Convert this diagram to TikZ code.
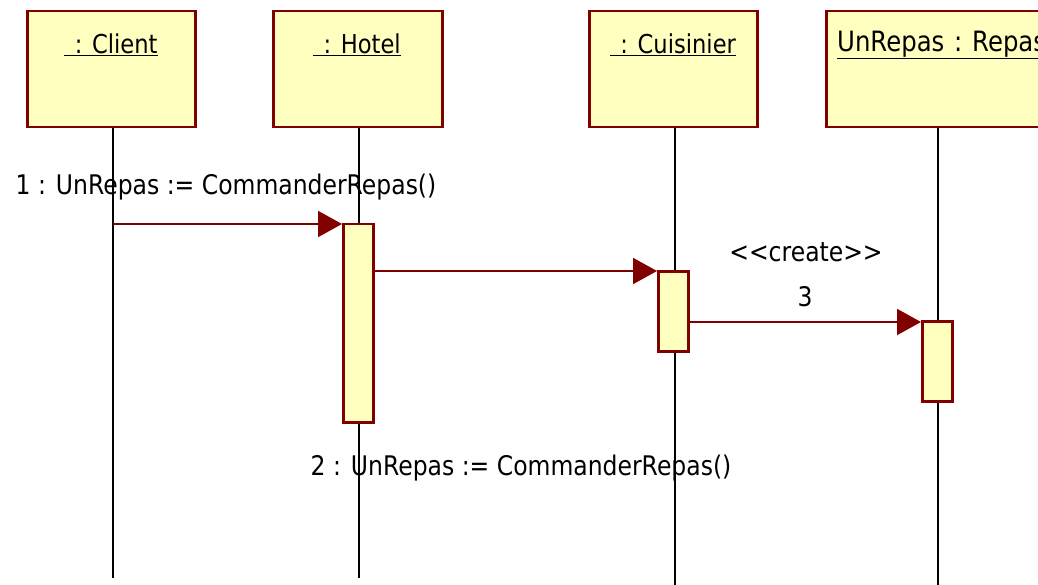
\documentclass[tikz,border=0pt]{standalone}
\usepackage{fontspec}
\setmainfont{DejaVu Sans}[FakeStretch=0.87]
\usetikzlibrary{arrows.meta,calc}
\definecolor{bord}{HTML}{800000}
\definecolor{fillc}{HTML}{FFFFC0}
\begin{document}
\begin{tikzpicture}[x=1pt,y=-1pt,
  obj/.style={draw=bord,fill=fillc,line width=2.5pt,minimum height=116pt,anchor=north west,inner sep=0pt},
  act/.style={draw=bord,fill=fillc,line width=2.5pt,minimum width=30pt,anchor=north west,inner sep=0pt},
  life/.style={line width=2pt,black},
  msg/.style={line width=2pt,bord,-{Triangle[length=24pt,width=26pt]}},
  hdr/.style={font=\fontsize{26}{30}\selectfont,inner sep=0pt},
  lbl/.style={font=\fontsize{27}{31}\selectfont,inner sep=0pt}]
\useasboundingbox (0,0) rectangle (1038,585);
\clip (0,0) rectangle (1038,585);
% object boxes
\node[obj,minimum width=168pt] (cl) at (26,10) {};
\node[obj,minimum width=169pt] (ho) at (272,10) {};
\node[obj,minimum width=168pt] (cu) at (588,10) {};
\node[obj,minimum width=240pt] (re) at (825,10) {};
\node[hdr] (clt) at (111,45) {\underline{\hspace{0.4em}: Client}};
\node[hdr] (hot) at (357,45) {\underline{\hspace{0.4em}: Hotel}};
\node[hdr] (cut) at (673,45) {\underline{\hspace{0.4em}: Cuisinier}};
\node[hdr,anchor=west,font=\fontsize{28}{32}\selectfont] (ret) at (837,45) {\underline{UnRepas\hspace{0.35em}:\hspace{0.35em}Repas}};
% lifeline ends
\coordinate (clend) at (113,578);
\coordinate (hoend) at (359,578);
\coordinate (cuend) at (675,590);
\coordinate (reend) at (938,590);
\draw[life] (cl.south -| clend) -- (clend);
\draw[life] (ho.south -| hoend) -- (hoend);
\draw[life] (cu.south -| cuend) -- (cuend);
\draw[life] (re.south -| reend) -- (reend);
% activations
\node[act,minimum height=198pt] (a1) at (342,223) {};
\node[act,minimum height=80pt] (a2) at (657,270) {};
\node[act,minimum height=80pt] (a3) at (921,320) {};
% messages
\coordinate (m1s) at (113,224);
\draw[msg] (m1s) -- (a1.north west |- m1s);
\coordinate (m2s) at (374,271);
\draw[msg] (m2s) -- (a2.north west |- m2s);
\coordinate (m3s) at (690,322);
\draw[msg] (m3s) -- (a3.north west |- m3s);
% labels
\node[lbl] (l1) at (226,187) {1 : UnRepas := CommanderRepas()};
\node[lbl] (l2) at (521,468) {2 : UnRepas := CommanderRepas()};
\node[lbl] (l3a) at (806,252) {<{}<create>{}>};
\node[lbl] (l3b) at (805,297) {3};
\end{tikzpicture}
\end{document}
